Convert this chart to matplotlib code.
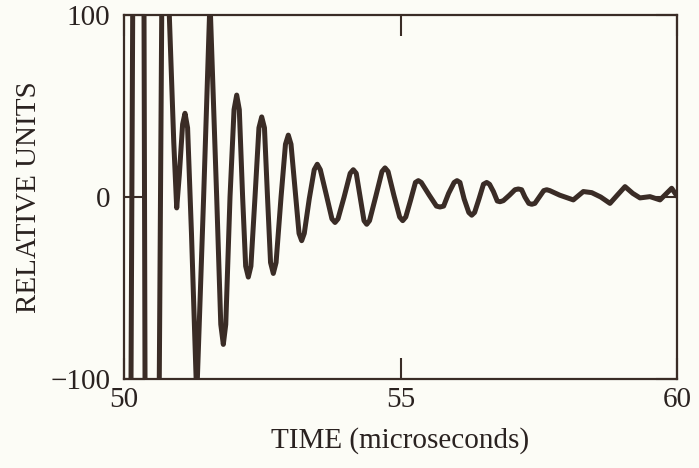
import matplotlib
matplotlib.use("Agg")
import matplotlib.pyplot as plt

# Time (microseconds) and signal (relative units)
time_us = [50.10, 50.127, 50.157, 50.26, 50.362, 50.380, 50.51, 50.638, 50.682, 50.75,
           50.819, 50.90, 50.953, 51.00, 51.06, 51.103, 51.15, 51.22, 51.315, 51.44,
           51.555, 51.676, 51.75, 51.796, 51.84, 51.917, 51.99, 52.038, 52.085, 52.145,
           52.20, 52.248, 52.295, 52.369, 52.44, 52.490, 52.54, 52.595, 52.65, 52.700,
           52.75, 52.84, 52.92, 52.971, 53.02, 53.10, 53.165, 53.213, 53.26, 53.35,
           53.44, 53.495, 53.55, 53.66, 53.76, 53.816, 53.87, 53.98, 54.09, 54.146,
           54.20, 54.27, 54.34, 54.389, 54.44, 54.55, 54.665, 54.720, 54.775, 54.88,
           54.985, 55.040, 55.095, 55.18, 55.27, 55.322, 55.375, 55.52, 55.65, 55.714,
           55.78, 55.87, 55.97, 56.022, 56.075, 56.15, 56.235, 56.288, 56.34, 56.42,
           56.50, 56.559, 56.61, 56.68, 56.75, 56.800, 56.86, 56.97, 57.07, 57.130,
           57.19, 57.25, 57.32, 57.373, 57.43, 57.51, 57.59, 57.644, 57.70, 57.88,
           58.125, 58.306, 58.458, 58.62, 58.788, 58.92, 59.060, 59.20, 59.331, 59.512,
           59.693, 59.904, 60.0]
signal = [-300, -100, 100, 300, 100, -100, -300, -100, 100, 300,
          100, 30, -6, 12, 40, 46, 38, -20, -110, 0,
          108, 0, -70, -81, -70, 0, 48, 56, 48, 0,
          -38, -44, -38, 0, 38, 44, 38, 0, -36, -42,
          -36, 0, 29, 34, 29, 2, -20, -24, -20, -1,
          15, 18, 15, 1, -12, -14, -12, 0, 13, 15,
          13, 0, -13, -15, -13, 0, 14, 16, 14, 1,
          -11, -13, -11, -2, 8, 9, 8, 1, -5, -5.5,
          -5, 2, 8, 9, 8, -1, -8.5, -10, -8.5, -1,
          7, 8, 7, 3, -2.2, -2.6, -2, 1, 4, 4.4,
          4, 0, -3.5, -4, -3.5, 0, 3.5, 4, 3.5, 1,
          -1.6, 3, 2.4, 0, -3.5, 1, 5.7, 2, -0.5, 0.2,
          -1.6, 4.8, 0.5]

x_ticks = [50, 55, 60]
y_ticks = [-100, 0, 100]
x_label = "TIME (microseconds)"
y_label = "RELATIVE UNITS"

plt.rcParams['font.family'] = ['Liberation Serif', 'DejaVu Serif']

bg = '#fcfcf6'
ink = '#3a2c26'

fig = plt.figure(figsize=(6.99, 4.68), dpi=100, facecolor=bg)
ax = fig.add_axes([124/699, 1 - 379/468, (677-124)/699, (379-15)/468], facecolor=bg)

ax.plot(time_us, signal, color=ink, lw=3.6, solid_joinstyle='round', solid_capstyle='round')

ax.set_xlim(50, 60)
ax.set_ylim(-100, 100)
ax.set_xticks(x_ticks)
ax.set_yticks(y_ticks)
ax.tick_params(direction='in', length=15, width=1.5, color=ink, labelsize=21,
               top=True, right=True, labelcolor='#2a2220')
ax.tick_params(axis='x', pad=6)
ax.tick_params(axis='y', pad=10)
for s in ax.spines.values():
    s.set_color(ink)
    s.set_linewidth(1.6)

ax.set_xlabel(x_label, fontsize=21, color='#2a2220', labelpad=10)
ax.set_ylabel(y_label, fontsize=21, color='#2a2220', labelpad=6)

fig.savefig("out.png", dpi=100, facecolor=bg)
